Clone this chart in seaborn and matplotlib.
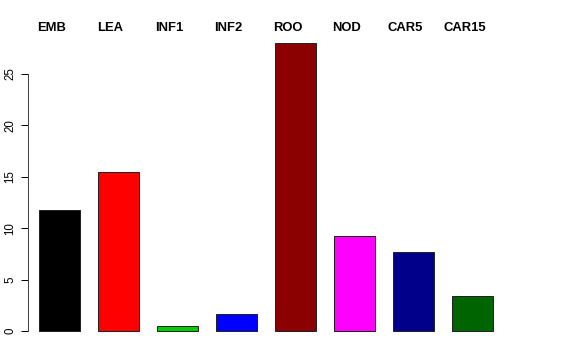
import pandas as pd
import seaborn as sns
import matplotlib.pyplot as plt

# tissue values
tissues = ['EMB', 'LEA', 'INF1', 'INF2', 'ROO', 'NOD', 'CAR5', 'CAR15']
values = [11.8, 15.5, 0.5, 1.7, 28.0, 9.2, 7.7, 3.4]
colors = ['#000000', '#FF0000', '#00CD00', '#0000FF', '#8B0000', '#FF00FF', '#00008B', '#006400']

sns.set_style('white')
plt.rcParams['font.family'] = ['Liberation Sans', 'DejaVu Sans']
plt.rcParams['text.color'] = 'black'

df = pd.DataFrame({'tissue': tissues, 'value': values})

fig = plt.figure(figsize=(8, 5), dpi=72)
# axes placed in pixel terms to match the R plot region
ax = fig.add_axes([28 / 576, (360 - 342.5) / 360, (545 - 28) / 576, (342.5 - 31.6) / 360])

sns.barplot(ax=ax, data=df, x='tissue', y='value', hue='tissue', palette=colors,
            legend=False, width=0.71, edgecolor='#222222', linewidth=1, saturation=1)

ax.set_xlim((28 - 59.5) / 59, (545 - 59.5) / 59)
ax.set_ylim(-1.12, 29.12)
ax.set_xticks([])
ax.set_yticks([0, 5, 10, 15, 20, 25])
ax.set_yticklabels(['0', '5', '10', '15', '20', '25'], rotation=90, va='center', fontsize=11.5)
ax.tick_params(axis='y', direction='out', length=7, width=1, pad=5, left=True,
               colors='black', labelcolor='black')
ax.set_xlabel('')
ax.set_ylabel('')

for s in ['top', 'right', 'bottom']:
    ax.spines[s].set_visible(False)
ax.spines['left'].set_bounds(0, 25)
ax.spines['left'].set_color('#444444')
ax.spines['left'].set_linewidth(1)

for i, t in enumerate(tissues):
    ax.text(i - 0.137, 29.47, t, ha='center', va='center', fontsize=13,
            fontweight='bold', color='black', clip_on=False)

plt.savefig('out.png', dpi=72)
